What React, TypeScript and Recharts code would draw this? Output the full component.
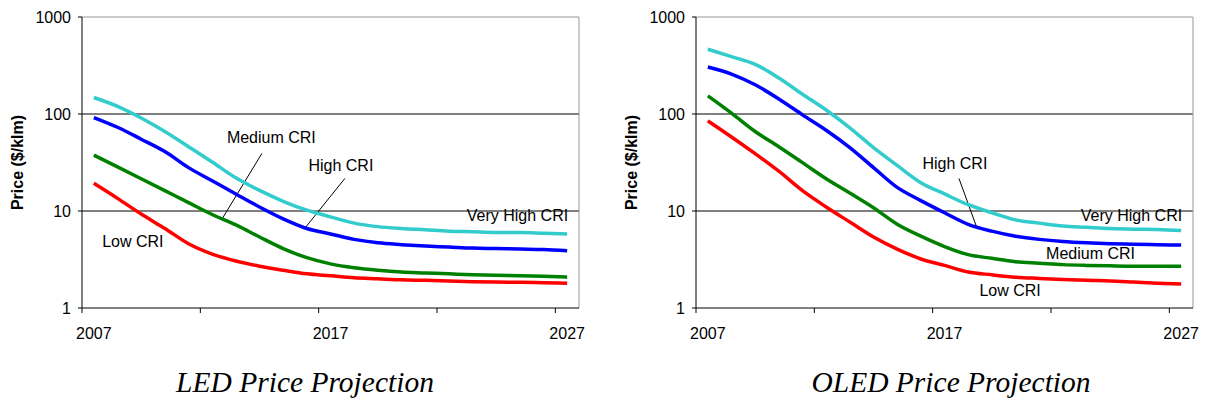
import React from 'react';
import { LineChart, Line, XAxis, YAxis, ReferenceLine, ReferenceDot } from 'recharts';

const years = [2007, 2008, 2009, 2010, 2011, 2012, 2013, 2014, 2015, 2016, 2017, 2018, 2019, 2020, 2021, 2022, 2023, 2024, 2025, 2026, 2027];

const ledVeryHigh = [148, 120, 91, 66, 46, 32, 22, 16.3, 12.6, 10.2, 8.7, 7.5, 6.9, 6.6, 6.4, 6.2, 6.1, 6.0, 6.0, 5.9, 5.8];
const ledHigh = [92, 73, 55, 41, 28, 20.5, 15, 11, 8.3, 6.6, 5.8, 5.1, 4.7, 4.5, 4.35, 4.25, 4.15, 4.1, 4.05, 4.0, 3.9];
const ledMedium = [37.7, 28.5, 21.5, 16.2, 12.2, 9.2, 7.2, 5.4, 4.1, 3.3, 2.85, 2.6, 2.45, 2.35, 2.3, 2.25, 2.2, 2.17, 2.15, 2.12, 2.08];
const ledLow = [19.3, 13.5, 9.3, 6.6, 4.6, 3.6, 3.05, 2.7, 2.45, 2.25, 2.15, 2.05, 2.0, 1.95, 1.93, 1.9, 1.87, 1.85, 1.84, 1.82, 1.8];

const oledVeryHigh = [465, 390, 325, 235, 160, 110, 72, 45, 29.5, 19.6, 15, 11.6, 9.6, 8.1, 7.5, 7.0, 6.8, 6.6, 6.5, 6.45, 6.3];
const oledHigh = [305, 258, 200, 143, 98, 68, 45, 28, 17.5, 12.8, 9.6, 7.3, 6.2, 5.5, 5.1, 4.85, 4.7, 4.6, 4.55, 4.5, 4.45];
const oledMedium = [154, 102, 66, 46, 31.5, 21.5, 15.3, 10.8, 7.3, 5.5, 4.3, 3.55, 3.25, 3.0, 2.9, 2.8, 2.75, 2.72, 2.7, 2.7, 2.7];
const oledLow = [85, 58, 39, 25.7, 16.2, 11, 7.7, 5.4, 4.05, 3.2, 2.75, 2.35, 2.2, 2.08, 2.02, 1.97, 1.93, 1.9, 1.85, 1.8, 1.77];

const yTicks = [1, 10, 100, 1000];
const boundaryTicks = [2006.5, 2011.5, 2016.5, 2021.5, 2026.5];
const labelTicks = [2007, 2017, 2027];

// annotation texts: [label, year, value]
const ledNotes: [string, number, number][] = [
  ['Medium CRI', 2014.5, 57.9],
  ['High CRI', 2017.44, 29.8],
  ['Very High CRI', 2024.9, 9.03],
  ['Low CRI', 2008.65, 4.82],
];
const oledNotes: [string, number, number][] = [
  ['High CRI', 2017.44, 30.9],
  ['Very High CRI', 2024.9, 9.03],
  ['Medium CRI', 2023.17, 3.67],
  ['Low CRI', 2019.77, 1.53],
];
// pointer lines: [x1, y1, x2, y2]
const ledPointers: [number, number, number, number][] = [
  [2014.1, 39.2, 2012.41, 8.22],
  [2017.61, 21.7, 2015.88, 6.48],
];
const oledPointers: [number, number, number, number][] = [
  [2017.61, 21.7, 2018.37, 6.7],
];

const colors = { vh: '#33CCCC', high: '#0000FF', med: '#008000', low: '#FF0000' };

function buildRows(vh: number[], high: number[], med: number[], low: number[]) {
  return years.map((year, i) => ({ year, vh: vh[i], high: high[i], med: med[i], low: low[i] }));
}

const YLabel = (props: any) => {
  const vb = props.viewBox || {};
  const cx = vb.x + 17;
  const cy = vb.y + vb.height / 2;
  return (
    <text x={cx} y={cy} transform={`rotate(-90, ${cx}, ${cy})`} textAnchor="middle"
      dominantBaseline="central" fontWeight="bold" fontSize={16} fill="#000">
      Price ($/klm)
    </text>
  );
};

const NoLabel = () => <g />;

function Panel({ rows, notes, pointers }: { rows: any[]; notes: [string, number, number][]; pointers: [number, number, number, number][] }) {
  return (
    <LineChart width={600} height={360} data={rows} margin={{ top: 17, right: 21, left: 0, bottom: 7 }}>
      <XAxis dataKey="year" type="number" domain={[2006.5, 2027.5]} allowDataOverflow ticks={boundaryTicks}
        tick={<NoLabel />} tickSize={5} height={5} stroke="#000" tickLine={{ stroke: '#000' }} />
      <XAxis xAxisId="lbl" dataKey="year" type="number" domain={[2006.5, 2027.5]} allowDataOverflow ticks={labelTicks}
        tickLine={false} axisLine={false} tickSize={0} tickMargin={15} height={40}
        tick={{ fill: '#000', fontSize: 16 }} />
      <YAxis scale="log" domain={[1, 1000]} allowDataOverflow ticks={yTicks} width={82}
        tickSize={4} tickMargin={7} stroke="#000" tick={{ fill: '#000', fontSize: 16 }}
        label={<YLabel />} />
      <ReferenceLine y={10} stroke="#000" />
      <ReferenceLine y={100} stroke="#000" />
      <ReferenceLine y={1000} stroke="#999" />
      <ReferenceLine x={2027.5} stroke="#999" />
      {pointers.map((p, i) => (
        <ReferenceLine key={'p' + i} segment={[{ x: p[0], y: p[1] }, { x: p[2], y: p[3] }]} stroke="#000" />
      ))}
      <Line type="monotone" dataKey="vh" stroke={colors.vh} strokeWidth={3.5} dot={false} isAnimationActive={false} />
      <Line type="monotone" dataKey="high" stroke={colors.high} strokeWidth={3.5} dot={false} isAnimationActive={false} />
      <Line type="monotone" dataKey="med" stroke={colors.med} strokeWidth={3.5} dot={false} isAnimationActive={false} />
      <Line type="monotone" dataKey="low" stroke={colors.low} strokeWidth={3.5} dot={false} isAnimationActive={false} />
      {notes.map((n, i) => (
        <ReferenceDot key={'n' + i} x={n[1]} y={n[2]} r={0} fill="none" stroke="none"
          label={{ value: n[0], position: 'center', fill: '#000', fontSize: 16 }} />
      ))}
    </LineChart>
  );
}

const titleStyle: React.CSSProperties = {
  position: 'absolute', top: 368, width: 400, textAlign: 'center',
  fontFamily: '"Liberation Serif", "Times New Roman", serif', fontStyle: 'italic', fontSize: 29.5, lineHeight: '29px',
};

export default function App() {
  return (
    <div style={{ position: 'absolute', left: 0, top: 0, width: 1205, height: 402, background: '#fff',
      fontFamily: '"Liberation Sans", Arial, sans-serif' }}>
      <div style={{ position: 'absolute', left: 0, top: 0 }}>
        <Panel rows={buildRows(ledVeryHigh, ledHigh, ledMedium, ledLow)} notes={ledNotes} pointers={ledPointers} />
      </div>
      <div style={{ position: 'absolute', left: 614, top: 0 }}>
        <Panel rows={buildRows(oledVeryHigh, oledHigh, oledMedium, oledLow)} notes={oledNotes} pointers={oledPointers} />
      </div>
      <div style={{ ...titleStyle, left: 105 }}>LED Price Projection</div>
      <div style={{ ...titleStyle, left: 751 }}>OLED Price Projection</div>
    </div>
  );
}
